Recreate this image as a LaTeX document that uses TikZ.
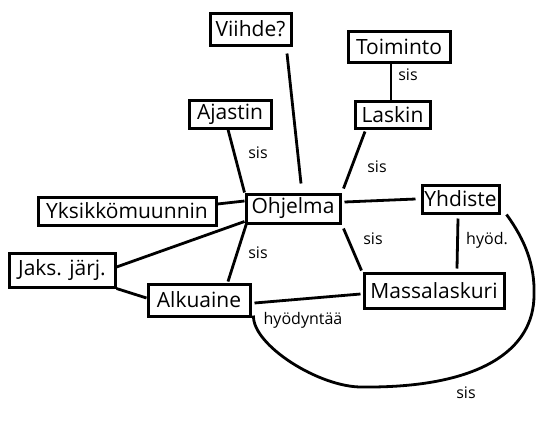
\documentclass[tikz,border=0pt]{standalone}
\usepackage{fontspec}
\setmainfont{Open Sans}
\begin{document}
\begin{tikzpicture}[x=1pt,y=-1pt,
  box/.style={draw,line width=3pt,inner sep=0pt,font=\fontsize{21}{23}\selectfont},
  lbl/.style={inner sep=0pt,font=\fontsize{16}{18}\selectfont},
  conn/.style={line width=2.8pt}]
\useasboundingbox[fill=white] (0,0) rectangle (556,421);
\node[box,minimum width=81pt,minimum height=32pt] (viihde) at (250.5,29) {Viihde?};
\node[box,minimum width=102pt,minimum height=31pt] (toiminto) at (399,46.5) {Toiminto};
\node[box,minimum width=82pt,minimum height=28pt] (ajastin) at (230,114) {Ajastin};
\node[box,minimum width=75pt,minimum height=27pt] (laskin) at (392.5,114.5) {Laskin};
\node[box,minimum width=94pt,minimum height=29pt] (ohjelma) at (293,208.5) {Ohjelma};
\node[box,minimum width=77pt,minimum height=28pt] (yhdiste) at (460.5,199) {Yhdiste};
\node[box,minimum width=140pt,minimum height=35pt] (massa) at (434,290.5) {Massalaskuri};
\node[box,minimum width=178pt,minimum height=28pt] (yksikko) at (127,211) {Yksikkömuunnin};
\node[box,minimum width=106pt,minimum height=34pt] (jaks) at (62,270) {Jaks. järj.};
\node[box,minimum width=102pt,minimum height=32pt] (alku) at (199,300) {Alkuaine};
% labels
\node[lbl] (s1) at (408,75) {sis};
\node[lbl] (s2) at (258,153) {sis};
\node[lbl] (s3) at (377,167) {sis};
\node[lbl] (s4) at (373,239) {sis};
\node[lbl] (s5) at (258,253) {sis};
\node[lbl] (h1) at (487,240) {hyöd.};
\node[lbl] (h2) at (303,320) {hyödyntää};
\node[lbl] (s6) at (466,393) {sis};
% connectors
\draw[conn] ([xshift=36.5pt,yshift=-7pt]viihde.south) -- ([xshift=8pt,yshift=9pt]ohjelma.north);
\draw[conn] ([xshift=-8pt]toiminto.south) -- ([xshift=-1.5pt]laskin.north);
\draw[conn] ([xshift=-2pt]ajastin.south) -- (ohjelma.north west);
\draw[conn] ([xshift=-27.5pt,yshift=-2pt]laskin.south) -- ([xshift=2pt,yshift=4pt]ohjelma.north east);
\draw[conn] ([xshift=3pt,yshift=6.5pt]ohjelma.east) -- ([xshift=-5pt]yhdiste.west);
\draw[conn] ([yshift=7pt]yksikko.east) -- ([yshift=7.5pt]ohjelma.west);
\draw[conn] ([yshift=3pt]jaks.east) -- ([yshift=3pt]ohjelma.south west);
\draw[conn] (jaks.south east) -- ([yshift=2pt]alku.west);
\draw[conn] ([xshift=29pt,yshift=1pt]alku.north) -- ([xshift=2pt,yshift=1pt]ohjelma.south west);
\draw[conn] ([xshift=2pt,yshift=-4pt]ohjelma.south east) -- ([xshift=-1pt,yshift=1pt]massa.north west);
\draw[conn] ([xshift=-2.5pt,yshift=-4pt]yhdiste.south) -- ([xshift=23pt,yshift=3pt]massa.north);
\draw[conn] ([xshift=3pt,yshift=-3pt]alku.east) -- ([xshift=-2pt,yshift=-3.5pt]massa.west);
\coordinate (cr) at (534,295);
\coordinate (cb) at (363,387);
\draw[conn] ([xshift=6pt]yhdiste.south east) .. controls (525,240) and (535,265) .. (cr)
  .. controls (534,350) and (480,388) .. (cb)
  .. controls (320,388) and (252,345) .. ([xshift=2pt,yshift=2pt]alku.south east);
\end{tikzpicture}
\end{document}
